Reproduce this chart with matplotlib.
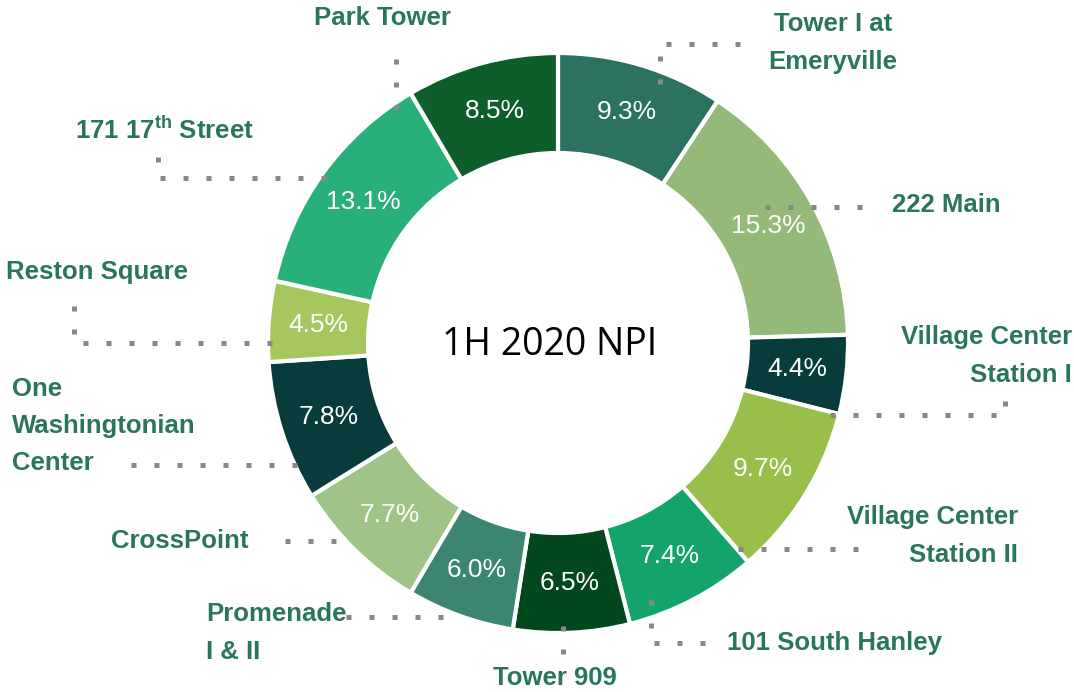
import matplotlib
matplotlib.use("Agg")
import matplotlib.pyplot as plt

# share of 1H 2020 NPI by property, clockwise from 12 o'clock
properties = ["Tower I at\nEmeryville", "222 Main", "Village Center\nStation I",
              "Village Center\nStation II", "101 South Hanley", "Tower 909",
              "Promenade\nI & II", "CrossPoint", "One\nWashingtonian\nCenter",
              "Reston Square", "171 17$^{\\mathrm{th}}$ Street", "Park Tower"]
shares = [9.3, 15.3, 4.4, 9.7, 7.4, 6.5, 6.0, 7.7, 7.8, 4.5, 13.1, 8.5]
colors = ["#2b7360", "#94b978", "#083b3c", "#98bf4a", "#14a46b", "#03481c",
          "#3c8571", "#a0c488", "#083b3c", "#a6c75e", "#29b07a", "#0d5e2b"]

LABEL_COLOR = "#2a7560"
DOT_COLOR = "#888888"

# label placement (pixel frame, y down): x, y, ha
label_pos = [(833, 43, "center"), (892, 205, "left"), (1072, 356, "right"),
             (1018, 536, "right"), (727, 643, "left"), (555, 678, "center"),
             (206, 633, "left"), (249, 541, "right"), (12, 426, "left"),
             (6, 272, "left"), (75, 130, "left"), (382, 18, "center")]
# dotted elbow leaders
leaders = [[(660, 84), (660, 44), (748, 44)],
           [(765, 207), (877, 207)],
           [(830, 415), (1005, 415), (1005, 394)],
           [(738, 549), (872, 549)],
           [(651, 600), (651, 643), (717, 643)],
           [(563, 626), (563, 657)],
           [(443, 617), (345, 617)],
           [(336, 541), (270, 541)],
           [(297, 465), (116, 465)],
           [(272, 343), (74, 343), (74, 299)],
           [(326, 178), (158, 178), (158, 152)],
           [(396, 110), (396, 42)]]

plt.rcParams["mathtext.fontset"] = "custom"
plt.rcParams["mathtext.rm"] = "Liberation Sans:bold"
plt.rcParams["mathtext.bf"] = "Liberation Sans:bold"

fig = plt.figure(figsize=(10.74, 6.92), dpi=100)
ax = fig.add_axes([0, 0, 1, 1])

cx, cy, R = 558, 343, 290
wedges, texts, autotexts = ax.pie(
    shares, colors=colors, center=(cx, cy), radius=R,
    startangle=-90, counterclock=True, normalize=True,
    autopct="%.1f%%", pctdistance=0.83,
    wedgeprops=dict(width=100, edgecolor="white", linewidth=3),
    textprops=dict(color="white", fontsize=19, family="Liberation Sans"),
    frame=True)
ax.set_xlim(0, 1074)
ax.set_ylim(692, 0)
ax.set_aspect("equal")
ax.axis("off")

ax.text(cx - 8, cy + 2, "1H 2020 NPI", ha="center", va="center",
        fontsize=27, family="Open Sans", color="black")

for name, (x, y, ha), pts in zip(properties, label_pos, leaders):
    ax.text(x, y, name, ha=ha, va="center", multialignment=ha,
            fontsize=18.5, fontweight="bold", family="Liberation Sans",
            color=LABEL_COLOR, linespacing=1.7)
    xs, ys = zip(*pts)
    ax.plot(xs, ys, color=DOT_COLOR, lw=3.6, linestyle=(0, (1, 3.6)),
            dash_capstyle="butt")

fig.savefig("out.png", dpi=100)
